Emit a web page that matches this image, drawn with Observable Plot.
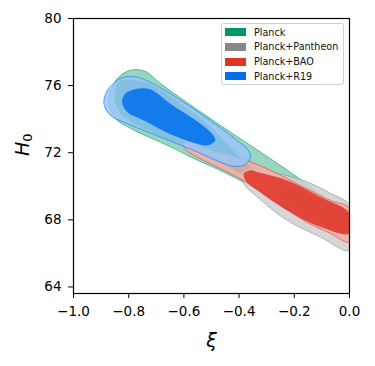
<!DOCTYPE html>
<html>
<head>
<meta charset="utf-8">
<script src="https://cdn.jsdelivr.net/npm/d3@7"></script>
<script src="https://cdn.jsdelivr.net/npm/@observablehq/plot@0.6"></script>
<style>
  html, body { margin: 0; padding: 0; background: white; }
  #wrap { position: relative; width: 375px; height: 366px; }
  #legend { position: absolute; left: 221px; top: 23px; width: 123px; height: 62px;
    border: 1px solid #d0d0d0; border-radius: 3px; background: rgba(255,255,255,0.85);
    font-family: "DejaVu Sans", sans-serif; font-size: 9.6px; color: #111; box-sizing: border-box; }
  .row { position: absolute; left: 3px; height: 10px; display: flex; align-items: center; }
  .sw { width: 21px; height: 8px; margin-right: 8px; }
</style>
</head>
<body>
<div id="wrap"><div id="chart"></div><div id="legend"></div></div>
<script>
// Series names and colours
const seriesNames = ["Planck", "Planck+Pantheon", "Planck+BAO", "Planck+R19"];
const seriesColors = ["#009966", "#888888", "#E03424", "#006FED"];
const seriesPale = ["#99D6C2", "#CFCFCF", "#F3AEA7", "#99C5F8"];

// Tick values
const xTicks = [-1.0, -0.8, -0.6, -0.4, -0.2, 0.0];
const yTicks = [64, 68, 72, 76, 80];

// Contour outlines (xi, H0)
const planck95 = [[-0.787,76.94],[-0.739,76.84],[-0.685,76.13],[-0.504,74.04],[-0.359,72.44],[-0.250,71.24],[-0.178,70.41],[-0.105,69.46],[-0.033,68.51],[0,67.97],[0,67.01],[-0.105,67.97],[-0.214,68.98],[-0.348,69.93],[-0.420,70.55],[-0.493,71.13],[-0.565,71.66],[-0.649,72.35],[-0.793,73.45],[-0.848,74.04],[-0.873,75.12],[-0.859,75.95],[-0.830,76.61]];
const planck68 = [[-0.837,76.19],[-0.793,76.37],[-0.721,76.07],[-0.649,75.35],[-0.504,73.55],[-0.420,72.10],[-0.370,71.35],[-0.322,70.80],[-0.250,70.30],[-0.190,69.85],[-0.175,69.50],[-0.214,69.40],[-0.304,69.90],[-0.395,70.75],[-0.486,71.55],[-0.576,72.26],[-0.685,72.97],[-0.775,73.69],[-0.830,74.34],[-0.851,75.24]];
const pantheon95 = [[-0.389,70.75],[-0.359,71.07],[-0.286,70.85],[-0.167,70.35],[-0.069,69.58],[0,68.86],[0,66.18],[-0.105,66.97],[-0.226,67.97],[-0.334,69.36],[-0.383,70.15]];
const pantheon68 = [[-0.262,69.56],[-0.214,69.93],[-0.105,69.22],[0,68.33],[0,67.25],[-0.105,67.75],[-0.214,69.02],[-0.250,69.25]];
const bao95 = [[-0.600,72.58],[-0.576,72.79],[-0.529,72.33],[-0.407,71.74],[-0.286,70.95],[-0.167,69.95],[-0.069,69.16],[0,68.68],[0,66.68],[-0.069,67.19],[-0.167,67.97],[-0.286,69.36],[-0.407,70.55],[-0.552,71.74],[-0.594,72.20]];
const bao68 = [[-0.383,70.75],[-0.359,70.95],[-0.334,70.85],[-0.226,70.35],[-0.105,69.36],[0,68.39],[0,67.19],[-0.105,67.57],[-0.226,68.56],[-0.334,69.76],[-0.377,70.35]];
const r19_95 = [[-0.890,74.92],[-0.878,75.71],[-0.842,76.31],[-0.818,76.50],[-0.769,76.50],[-0.721,76.19],[-0.649,75.52],[-0.504,73.92],[-0.407,72.73],[-0.366,72.14],[-0.359,71.74],[-0.377,71.30],[-0.420,71.19],[-0.565,72.14],[-0.685,72.93],[-0.805,73.73],[-0.866,74.22]];
const r19_68 = [[-0.824,75.01],[-0.812,75.53],[-0.769,75.81],[-0.721,75.77],[-0.649,74.92],[-0.540,73.73],[-0.496,73.09],[-0.486,72.73],[-0.516,72.44],[-0.624,72.93],[-0.745,73.92],[-0.805,74.42]];

const contours = [
  {pts: planck95, s: 0, level: 95, alpha: 1},
  {pts: planck68, s: 0, level: 68, alpha: 1},
  {pts: pantheon95, s: 1, level: 95, alpha: 0.85},
  {pts: pantheon68, s: 1, level: 68, alpha: 0.85},
  {pts: bao95, s: 2, level: 95, alpha: 0.85},
  {pts: bao68, s: 2, level: 68, alpha: 0.85},
  {pts: r19_95, s: 3, level: 95, alpha: 0.85},
  {pts: r19_68, s: 3, level: 68, alpha: 0.85}
];

const marks = contours.map(c => Plot.line(c.pts, {
  x: d => d[0], y: d => d[1], curve: "catmull-rom-closed", clip: true,
  fill: c.level === 95 ? seriesPale[c.s] : seriesColors[c.s],
  fillOpacity: c.alpha,
  stroke: seriesColors[c.s], strokeWidth: c.level === 95 ? 0.8 : 0, strokeOpacity: 0.7
}));

const plot = Plot.plot({
  width: 375, height: 366,
  marginLeft: 73, marginRight: 26, marginTop: 18, marginBottom: 73,
  x: {domain: [-1, 0], ticks: xTicks, tickFormat: d3.format(".1f"), label: null, tickSize: 5, tickPadding: 8},
  y: {domain: [63.61, 80], ticks: yTicks, tickFormat: d3.format("d"), label: null, tickSize: 5, tickPadding: 7},
  style: {fontFamily: "DejaVu Sans, sans-serif", fontSize: "13.5px", color: "black", background: "white", overflow: "visible"},
  marks: [
    ...marks,
    Plot.frame({stroke: "black", strokeWidth: 1.2}),
    Plot.text(["ξ"], {frameAnchor: "bottom", dy: 53, text: d => d, fontSize: 19, fontStyle: "italic", fontFamily: "DejaVu Sans"}),
    Plot.text(["H0"], {frameAnchor: "left", dx: -51, rotate: -90, text: d => d, fontSize: 19, fontFamily: "DejaVu Sans", className: "ylab"})
  ]
});
document.getElementById("chart").appendChild(plot);

// y label: italic H with upright subscript 0
d3.select(plot).selectAll(".ylab text").each(function() {
  const t = d3.select(this);
  t.text("");
  t.append("tspan").attr("font-style", "italic").text("H");
  t.append("tspan").attr("font-size", 13).attr("dy", "0.3em").text("0");
});

// legend
const lg = document.getElementById("legend");
seriesNames.forEach((n, i) => {
  const r = document.createElement("div");
  r.className = "row";
  r.style.top = (3 + i * 14.8) + "px";
  r.innerHTML = `<div class="sw" style="background:${seriesColors[i]}"></div><span>${n}</span>`;
  lg.appendChild(r);
});
</script>
</body>
</html>
